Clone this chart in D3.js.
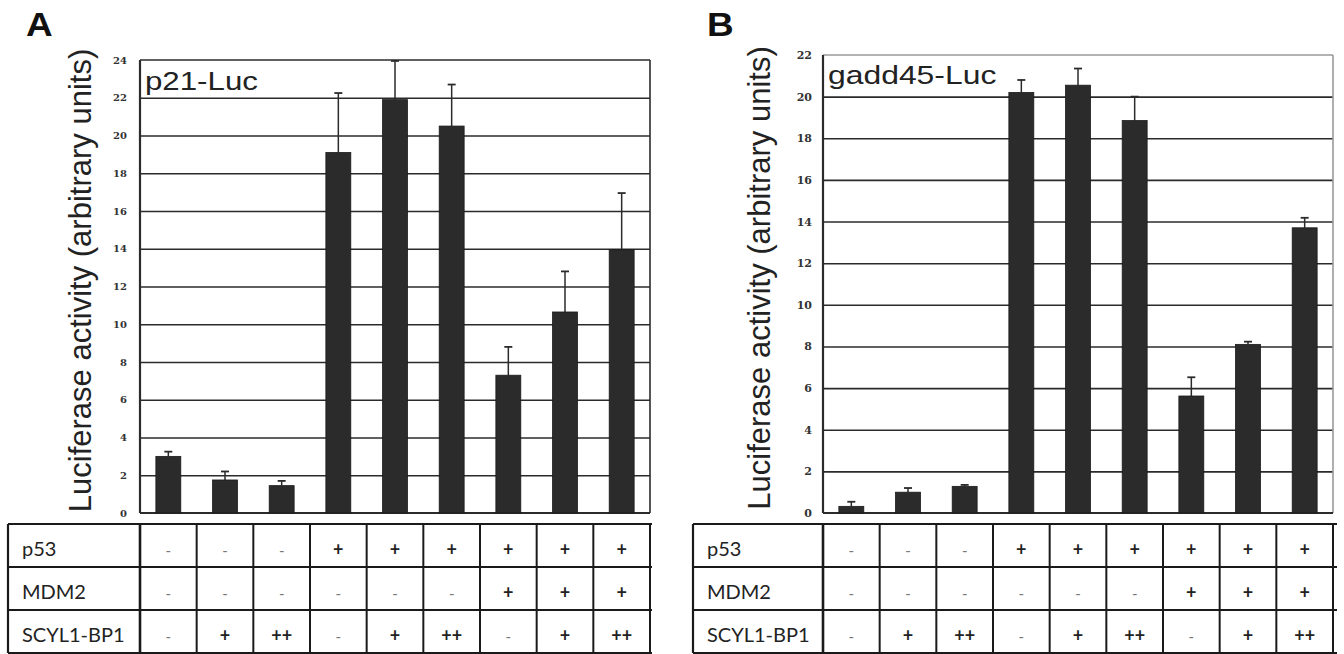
<!DOCTYPE html>
<html>
<head>
<meta charset="utf-8">
<script src="https://cdn.jsdelivr.net/npm/d3@7/dist/d3.min.js"></script>
<style>
  body { margin: 0; background: #fff; }
  svg { display: block; }
</style>
</head>
<body>
<svg id="chart" width="1344" height="654"></svg>
<script>
// conditions per column
const rowLabels = ['p53', 'MDM2', 'SCYL1-BP1']
const p53Row = ['-', '-', '-', '+', '+', '+', '+', '+', '+']
const mdm2Row = ['-', '-', '-', '-', '-', '-', '+', '+', '+']
const scylRow = ['-', '+', '++', '-', '+', '++', '-', '+', '++']

// panel A, p21-Luc
const p21Values = [3.0, 1.75, 1.45, 19.1, 21.9, 20.5, 7.3, 10.65, 13.95]
const p21Errors = [0.25, 0.45, 0.25, 3.15, 2.05, 2.2, 1.5, 2.15, 3.0]
const p21Ticks = [0, 2, 4, 6, 8, 10, 12, 14, 16, 18, 20, 22, 24]

// panel B, gadd45-Luc
const gadd45Values = [0.32, 1.0, 1.28, 20.2, 20.55, 18.85, 5.62, 8.1, 13.7]
const gadd45Errors = [0.22, 0.2, 0.07, 0.6, 0.8, 1.15, 0.9, 0.13, 0.48]
const gadd45Ticks = [0, 2, 4, 6, 8, 10, 12, 14, 16, 18, 20, 22]

const svg = d3.select('#chart')
const ink = '#2b2b2b'

function draw_panel(opt) {
  const g = svg.append('g')
  const cols = d3.range(opt.values.length)
  const x = d3.scaleBand().domain(cols).range([opt.left, opt.right]).paddingInner(0.56).paddingOuter(0.28)
  const y = d3.scaleLinear().domain([0, d3.max(opt.ticks)]).range([opt.bottom, opt.top])
  const width = opt.right - opt.left

  // grid + tick labels
  const axis = g.append('g')
    .attr('transform', `translate(${opt.left},0)`)
    .call(d3.axisLeft(y).tickValues(opt.ticks).tickSize(-width).tickPadding(opt.tickPad))
  axis.select('.domain').remove()
  axis.selectAll('.tick line')
    .attr('stroke', ink)
    .attr('stroke-width', 1.6)
    .attr('opacity', d => (d === 0 || d === d3.max(opt.ticks)) ? 0 : 1)
  axis.selectAll('.tick text')
    .attr('font-family', 'DejaVu Serif, serif')
    .attr('font-weight', 'bold')
    .attr('font-size', opt.tickSize)
    .attr('fill', '#333')

  // frame
  g.append('line').attr('x1', opt.left).attr('x2', opt.right).attr('y1', opt.top).attr('y2', opt.top)
    .attr('stroke', opt.frameColor).attr('stroke-width', 1.6)
  g.append('line').attr('x1', opt.right).attr('x2', opt.right).attr('y1', opt.top).attr('y2', opt.bottom)
    .attr('stroke', opt.frameColor).attr('stroke-width', 1.6)
  g.append('line').attr('x1', opt.left).attr('x2', opt.right).attr('y1', opt.bottom).attr('y2', opt.bottom)
    .attr('stroke', ink).attr('stroke-width', 2)
  g.append('line').attr('x1', opt.left).attr('x2', opt.left).attr('y1', opt.top).attr('y2', opt.bottom)
    .attr('stroke', ink).attr('stroke-width', 2.2)

  // error bars (upper only)
  const err = g.append('g')
  cols.forEach(i => {
    const cx = x(i) + x.bandwidth() / 2
    const yTop = y(opt.values[i] + opt.errors[i])
    err.append('line').attr('x1', cx).attr('x2', cx)
      .attr('y1', y(opt.values[i])).attr('y2', yTop)
      .attr('stroke', ink).attr('stroke-width', 1.5)
    err.append('line').attr('x1', cx - 4).attr('x2', cx + 4)
      .attr('y1', yTop).attr('y2', yTop)
      .attr('stroke', ink).attr('stroke-width', 1.8)
  })

  // bars
  g.selectAll('.bar')
    .data(opt.values)
    .enter()
    .append('rect')
    .attr('class', 'bar')
    .attr('x', (d, i) => x(i))
    .attr('y', d => y(d))
    .attr('width', x.bandwidth())
    .attr('height', d => opt.bottom - y(d))
    .attr('fill', ink)
    .attr('stroke', '#1a1a1a')
    .attr('stroke-width', 0.8)

  // labels (the source figure is a bit stretched sideways)
  g.append('text')
    .attr('transform', `translate(${opt.left + 5},${opt.nameY}) scale(1.25,1)`)
    .attr('font-family', 'Liberation Sans, Arial, sans-serif')
    .attr('font-size', opt.nameSize)
    .attr('fill', '#222')
    .text(opt.name)
  g.append('text')
    .attr('transform', `translate(${opt.titleX},${(opt.top + opt.bottom) / 2 - 6}) rotate(-90)`)
    .attr('text-anchor', 'middle')
    .attr('font-family', 'Liberation Sans, Arial, sans-serif')
    .attr('font-size', 31)
    .attr('fill', '#222')
    .text('Luciferase activity (arbitrary units)')
  g.append('text')
    .attr('transform', `translate(${opt.letterX},36) scale(1.12,1)`)
    .attr('font-family', 'Liberation Sans, Arial, sans-serif')
    .attr('font-weight', 'bold')
    .attr('font-size', 33)
    .attr('fill', '#111')
    .text(opt.letter)

  // table
  const rows = [p53Row, mdm2Row, scylRow]
  const ry = d3.scaleBand().domain(d3.range(rows.length)).range([opt.tableTop, opt.tableBottom])
  const t = g.append('g')
  const cellLine = (x1, y1, x2, y2, w) => t.append('line')
    .attr('x1', x1).attr('y1', y1).attr('x2', x2).attr('y2', y2)
    .attr('stroke', '#1a1a1a').attr('stroke-width', w)
  ry.domain().forEach(r => {
    cellLine(opt.tableLeft, ry(r), opt.tableRight, ry(r), 2.2)
  })
  cellLine(opt.tableLeft, opt.tableBottom, opt.tableRight, opt.tableBottom, 2.2)
  cellLine(opt.tableLeft, opt.tableTop, opt.tableLeft, opt.tableBottom, 2.2)
  cellLine(opt.left, opt.tableTop, opt.left, opt.tableBottom, 2.6)
  cols.forEach(i => {
    const xr = opt.left + x.step() * (i + 1)
    cellLine(Math.min(xr, opt.tableRight), opt.tableTop, Math.min(xr, opt.tableRight), opt.tableBottom, 2)
  })
  rows.forEach((row, r) => {
    const cy = ry(r) + ry.bandwidth() / 2
    t.append('text')
      .attr('x', opt.tableLeft + 14).attr('y', cy + 10)
      .attr('font-family', 'Lato, sans-serif')
      .attr('font-size', 20)
      .attr('fill', '#222')
      .text(rowLabels[r])
    row.forEach((s, i) => {
      t.append('text')
        .attr('x', x(i) + x.bandwidth() / 2).attr('y', cy + 10)
        .attr('text-anchor', 'middle')
        .attr('font-family', 'Lato, sans-serif')
        .attr('font-weight', s === '-' ? 'normal' : 'bold')
        .attr('font-size', s === '-' ? 15 : 18)
        .attr('fill', s === '-' ? '#777' : '#222')
        .text(s)
    })
  })
}

draw_panel({
  letter: 'A', letterX: 26, name: 'p21-Luc', nameY: 90, nameSize: 25,
  values: p21Values, errors: p21Errors, ticks: p21Ticks,
  left: 140, right: 650, top: 60, bottom: 513,
  tickPad: 13, tickSize: 10, titleX: 91, frameColor: '#2b2b2b',
  tableLeft: 8, tableRight: 652, tableTop: 524, tableBottom: 653
})

draw_panel({
  letter: 'B', letterX: 707, name: 'gadd45-Luc', nameY: 84, nameSize: 25.5,
  values: gadd45Values, errors: gadd45Errors, ticks: gadd45Ticks,
  left: 823, right: 1333, top: 55, bottom: 513,
  tickPad: 11, tickSize: 11, titleX: 770, frameColor: '#9a9a9a',
  tableLeft: 693, tableRight: 1337, tableTop: 524, tableBottom: 653
})
</script>
</body>
</html>
